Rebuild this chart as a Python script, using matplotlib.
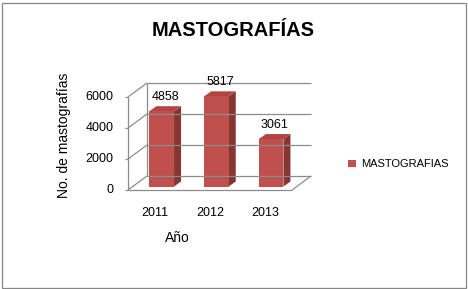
import matplotlib
matplotlib.use("Agg")
import matplotlib.pyplot as plt
from matplotlib.patches import Polygon, Rectangle

years = ["2011", "2012", "2013"]
values = [4858, 5817, 3061]
yticks = [0, 2000, 4000, 6000]
title = "MASTOGRAFÍAS"
xlabel = "Año"
ylabel = "No. de mastografías"
series = "MASTOGRAFIAS"

W, H = 468, 289
fig = plt.figure(figsize=(W/100, H/100), dpi=100)
plt.rcParams['font.family'] = ['Liberation Sans', 'DejaVu Sans']

# pixel geometry
px_left, px_bottom, px_right, px_top = 128, 190, 322, 66
sx = 54.7           # px per category
sy = 31/2000        # px per unit
ax = fig.add_axes([px_left/W, (H-px_bottom)/H, (px_right-px_left)/W, (px_bottom-px_top)/H])
ax.set_xlim(-0.5, -0.5 + (px_right-px_left)/sx)
ax.set_ylim(0, (px_bottom-px_top)/sy)
ax.axis('off')

dx, dy = 19/sx, 14/sy        # floor depth
f = 0.25
bdx, bdy = 7/sx, 5/sy        # bar depth
w = 0.45
grid_c = '#8c8c8c'
lw = 0.9
n = len(years)
x0, x1 = -0.5, n - 0.5
top = yticks[-1]

kw = dict(color=grid_c, lw=lw, clip_on=False, solid_capstyle='butt')
# back wall gridlines
for v in yticks:
    ax.plot([x0+dx, x1+dx], [v+dy, v+dy], **kw)
    ax.plot([x0, x0+dx], [v, v+dy], **kw)
    ax.plot([x0-0.06, x0], [v, v], **kw)
    ax.text(x0-0.27, v, str(v), ha='right', va='center', fontsize=9, color='black')
ax.plot([x0, x0], [0, top], **kw)
ax.plot([x0+dx, x0+dx], [dy, top+dy], **kw)
ax.plot([x0, x1], [0, 0], **kw)
ax.plot([x1, x1+dx], [0, dy], **kw)

front = '#C0504D'
side = '#863532'
topc = '#B3443F'
for i, v in enumerate(values):
    xc = i + f*dx + 0.03
    b = f*dy
    t = v + f*dy
    xl, xr = xc - w/2, xc + w/2
    ax.add_patch(Polygon([(xr, b), (xr+bdx, b+bdy), (xr+bdx, t+bdy), (xr, t)],
                         closed=True, fc=side, ec='none', clip_on=False))
    ax.add_patch(Polygon([(xl, t), (xr, t), (xr+bdx, t+bdy), (xl+bdx, t+bdy)],
                         closed=True, fc=topc, ec='none', clip_on=False))
    ax.bar([xc], [v], width=w, bottom=b, color=front, clip_on=False)
    ax.text(xc + bdx/2, t + bdy + 3/sy, str(v), ha='center', va='bottom', fontsize=9)
    ax.text(i, -23/sy, years[i], ha='center', va='center', fontsize=9)

fig.text(177/W, 1-238/H, xlabel, ha='center', va='center', fontsize=10)
fig.text(64/W, 1-135/H, ylabel, ha='center', va='center', fontsize=10, rotation=90)
fig.text(233/W, 1-31/H, title, ha='center', va='center', fontsize=14.5, fontweight='bold')

fig.patches.append(Rectangle((348/W, 1-167/H), 8/W, 7/H, transform=fig.transFigure,
                             fc=front, ec='none'))
fig.text(361/W, 1-164/H, series, ha='left', va='center', fontsize=8)
fig.patches.append(Rectangle((1.5/W, 1.5/H), (W-4)/W, (H-4)/H, transform=fig.transFigure,
                             fc='none', ec='#868686', lw=0.9))
fig.savefig('out.png', dpi=100)
